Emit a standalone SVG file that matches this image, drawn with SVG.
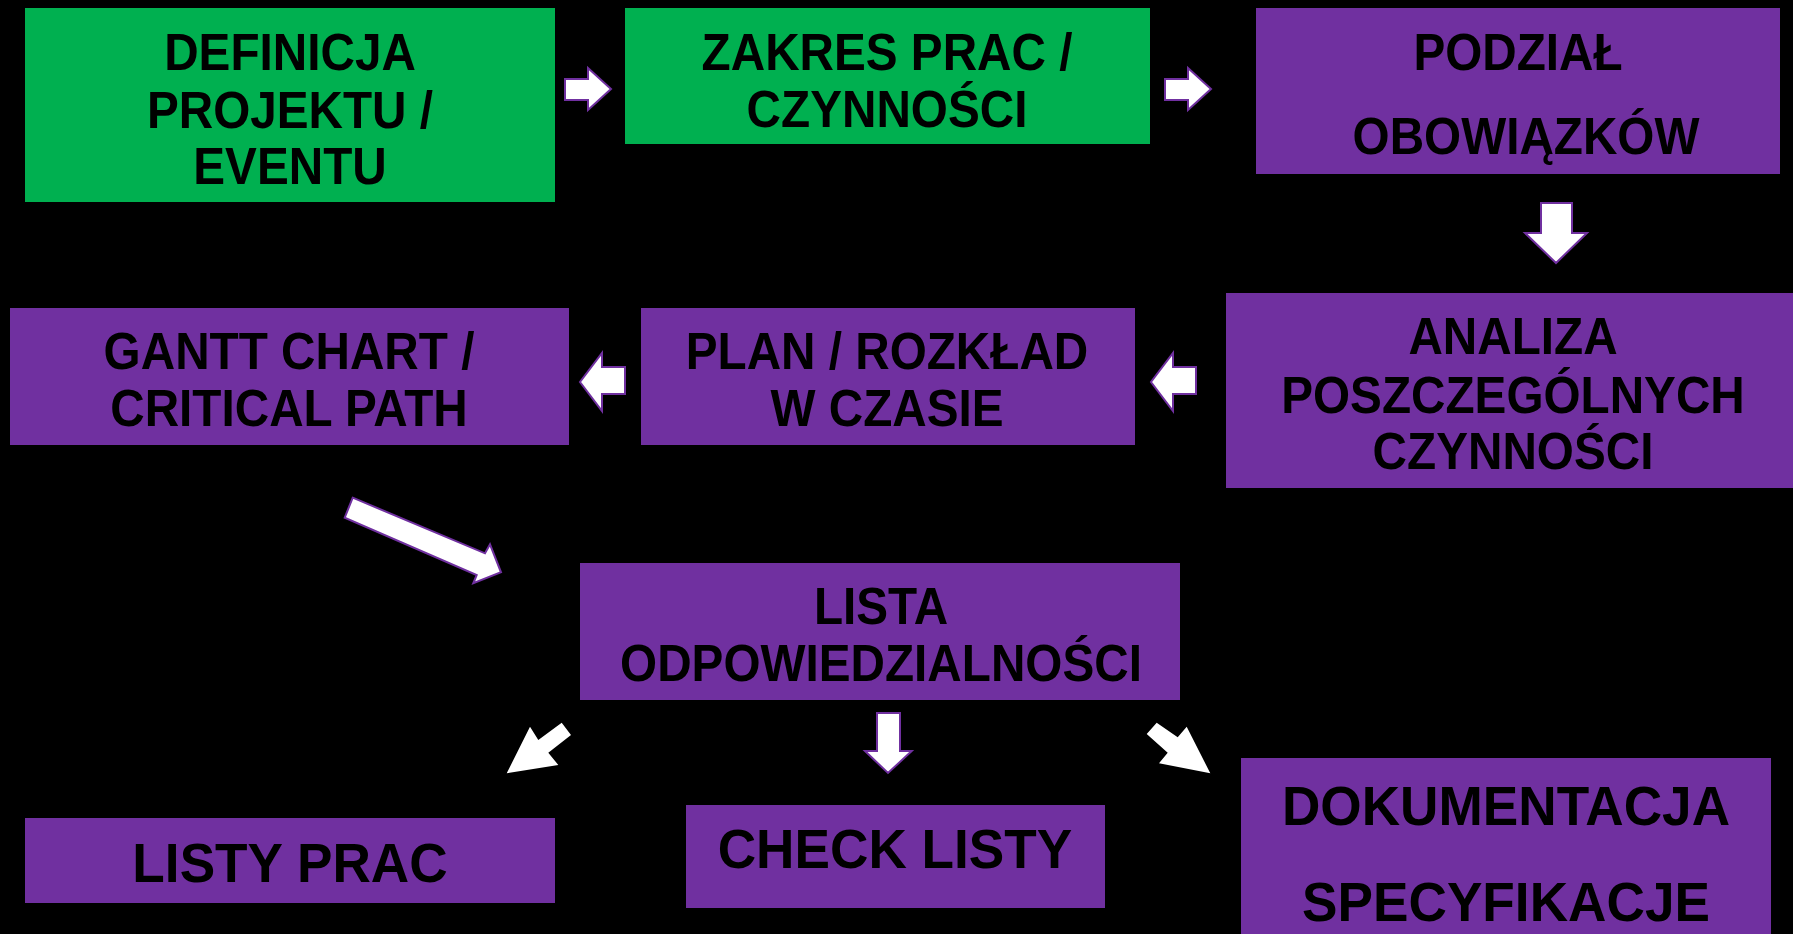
<svg xmlns="http://www.w3.org/2000/svg" width="1793" height="934" viewBox="0 0 1793 934">
<style>
.g{fill:#00B050}
.p{fill:#7030A0}
.t{font-family:"Liberation Sans",Arial,sans-serif;font-weight:bold;font-size:51px;fill:#000;text-anchor:middle}
.tb{font-size:56px}
.a{fill:#fff;stroke:#7030A0;stroke-width:2;stroke-linejoin:miter}
.w{fill:#fff}
</style>
<rect width="1793" height="934" fill="#000"/>
<g id="n1"><rect class="g" x="25" y="8" width="530" height="194"/>
<g transform="translate(290,0) scale(0.935,1)"><text class="t" x="0" y="70">DEFINICJA</text><text class="t" x="0" y="128">PROJEKTU /</text><text class="t" x="0" y="184">EVENTU</text></g></g>
<g id="n2"><rect class="g" x="625" y="8" width="525" height="136"/>
<g transform="translate(887,0) scale(0.935,1)"><text class="t" x="0" y="70">ZAKRES PRAC /</text><text class="t" x="0" y="127">CZYNNOŚCI</text></g></g>
<g id="n3"><rect class="p" x="1256" y="8" width="524" height="166"/>
<g transform="translate(1518,0) scale(0.935,1)"><text class="t" x="0" y="70">PODZIAŁ</text></g>
<g transform="translate(1526,0) scale(0.935,1)"><text class="t" x="0" y="154">OBOWIĄZKÓW</text></g></g>
<g id="n4"><rect class="p" x="1226" y="293" width="567" height="195"/>
<g transform="translate(1513,0) scale(0.935,1)"><text class="t" x="0" y="354">ANALIZA</text><text class="t" x="0" y="413">POSZCZEGÓLNYCH</text><text class="t" x="0" y="469">CZYNNOŚCI</text></g></g>
<g id="n5"><rect class="p" x="641" y="308" width="494" height="137"/>
<g transform="translate(887,0) scale(0.935,1)"><text class="t" x="0" y="369">PLAN / ROZKŁAD</text><text class="t" x="0" y="426">W CZASIE</text></g></g>
<g id="n6"><rect class="p" x="10" y="308" width="559" height="137"/>
<g transform="translate(289,0) scale(0.935,1)"><text class="t" x="0" y="369">GANTT CHART /</text><text class="t" x="0" y="426">CRITICAL PATH</text></g></g>
<g id="n7"><rect class="p" x="580" y="563" width="600" height="137"/>
<g transform="translate(881,0) scale(0.935,1)"><text class="t" x="0" y="624">LISTA</text><text class="t" x="0" y="681">ODPOWIEDZIALNOŚCI</text></g></g>
<g id="n8"><rect class="p" x="25" y="818" width="530" height="85"/>
<g transform="translate(290,0) scale(0.95,1)"><text class="t tb" x="0" y="882">LISTY PRAC</text></g></g>
<g id="n9"><rect class="p" x="686" y="805" width="419" height="103"/>
<g transform="translate(895,0) scale(0.95,1)"><text class="t tb" x="0" y="868">CHECK LISTY</text></g></g>
<g id="n10"><rect class="p" x="1241" y="758" width="530" height="176"/>
<g transform="translate(1506,0) scale(0.95,1)"><text class="t tb" x="0" y="825">DOKUMENTACJA</text><text class="t tb" x="0" y="921">SPECYFIKACJE</text></g></g>
<g id="connectors">
<polygon class="a" points="565,79 588,79 588,68 611,89 588,110 588,100 565,100"/>
<polygon class="a" points="1165,79 1188,79 1188,68 1211,89 1188,110 1188,100 1165,100"/>
<polygon class="a" points="1541,203 1572,203 1572,233 1587,233 1556,263 1525,233 1541,233"/>
<polygon class="a" points="1196,367 1173,367 1173,353 1151,382 1173,411 1173,394 1196,394"/>
<polygon class="a" points="625,367 602,367 602,353 580,382 602,411 602,394 625,394"/>
<polygon class="a" points="352.7,497.7 485,553.3 490,544.3 501,572.3 473.3,583.3 476.7,575 344.7,517.7"/>
<polygon class="w" points="506.7,773.3 530,726.7 538.3,740 561.7,722.7 571,735 548.3,752.7 558.3,765"/>
<polygon class="a" points="877,713 900,713 900,751 911.7,751 888,773 865,751 877,751"/>
<polygon class="w" points="1146.7,734 1156.7,722.7 1177.7,737.3 1186.7,726.7 1210.3,773.3 1159,763.3 1167.7,752.7"/>
</g>
</svg>
